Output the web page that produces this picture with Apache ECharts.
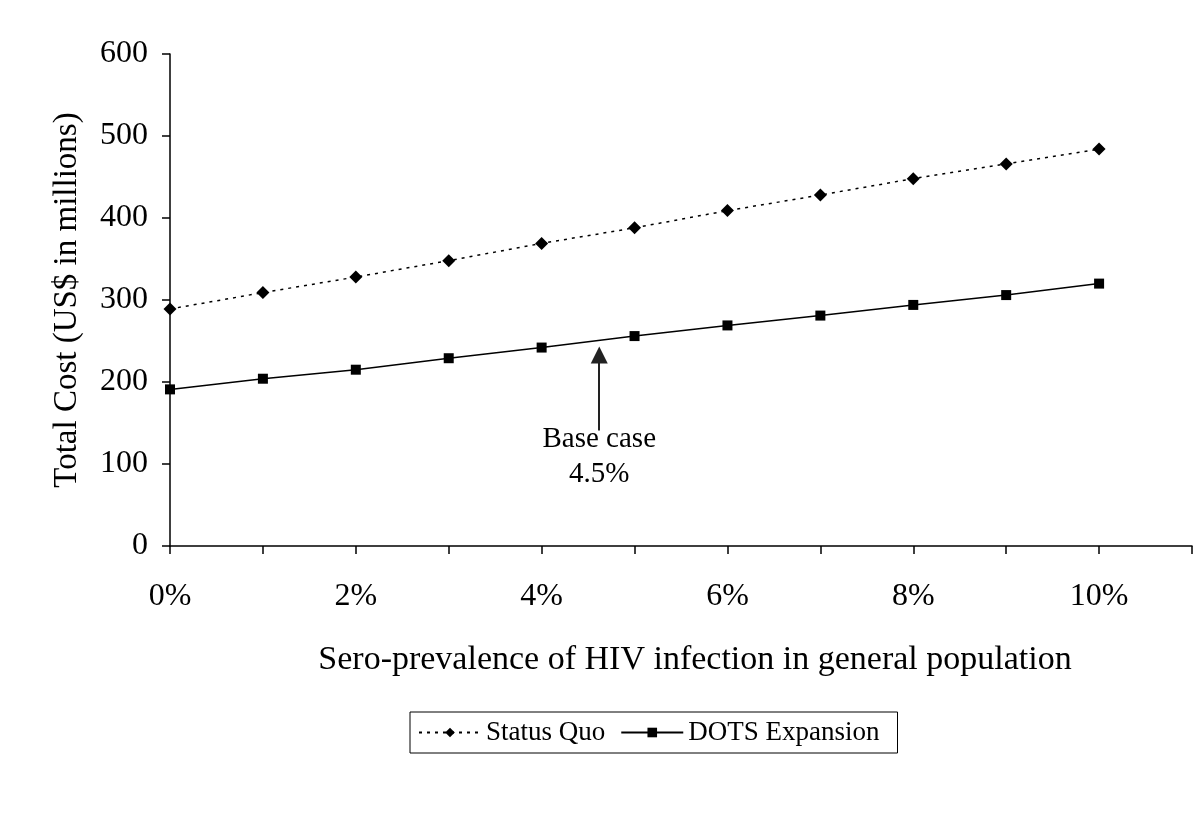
<!DOCTYPE html>
<html>
<head>
<meta charset="utf-8">
<script src="https://cdn.jsdelivr.net/npm/echarts@6/dist/echarts.min.js"></script>
<style>
  html, body { margin: 0; padding: 0; background: #fff; }
  #chart_cost { width: 1200px; height: 815px; }
</style>
</head>
<body>
<div id="chart_cost"></div>
<script>
// sero-prevalence (%) at each point
var prevalence = [0, 1, 2, 3, 4, 5, 6, 7, 8, 9, 10];
// total cost, US$ millions
var statusQuo = [289, 309, 328, 348, 369, 388, 409, 428, 448, 466, 484];
var dotsExpansion = [191, 204, 215, 229, 242, 256, 269, 281, 294, 306, 320];
var tickLabels = ['0%', '', '2%', '', '4%', '', '6%', '', '8%', '', '10%', ''];
// base case arrow: x, y start, y end
var baseCaseX = 4.62;
var baseCaseY = [141, 233];

var font = '"Liberation Serif", "Times New Roman", serif';

function pairs(vals) {
  return prevalence.map(function (x, i) { return [x, vals[i]]; });
}

var chart = echarts.init(document.getElementById('chart_cost'));
var option = {
  animation: false,
  textStyle: { fontFamily: font, color: '#000' },
  grid: { left: 170, right: 8, top: 54, bottom: 269, containLabel: false },
  legend: {
    left: 410,
    top: 712,
    data: ['Status Quo', 'DOTS Expansion'],
    borderColor: '#000',
    borderWidth: 1,
    padding: [7, 18, 7, 8],
    itemWidth: 62,
    itemHeight: 12,
    itemGap: 15,
    textStyle: { fontFamily: font, fontSize: 27, color: '#000' }
  },
  xAxis: {
    type: 'value',
    min: 0,
    max: 11,
    interval: 1,
    name: 'Sero-prevalence of HIV infection in general population',
    nameLocation: 'middle',
    nameGap: 97,
    nameTextStyle: { fontFamily: font, fontSize: 34, color: '#000', padding: [0, 0, 0, 28] },
    splitLine: { show: false },
    axisLine: { lineStyle: { color: '#000', width: 1.5 } },
    axisTick: { show: true, length: 8, lineStyle: { color: '#000', width: 1.5 } },
    axisLabel: {
      margin: 35,
      fontFamily: font,
      fontSize: 32,
      color: '#000',
      formatter: function (v) { return tickLabels[v] || ''; }
    }
  },
  yAxis: {
    type: 'value',
    min: 0,
    max: 600,
    interval: 100,
    name: 'Total Cost (US$ in millions)',
    nameLocation: 'middle',
    nameGap: 86,
    nameTextStyle: { fontFamily: font, fontSize: 33, color: '#000' },
    splitLine: { show: false },
    axisLine: { show: true, lineStyle: { color: '#000', width: 1.5 } },
    axisTick: { show: true, length: 8, lineStyle: { color: '#000', width: 1.5 } },
    axisLabel: { margin: 22, fontFamily: font, fontSize: 32, color: '#000' }
  },
  series: [
    {
      name: 'Status Quo',
      type: 'line',
      data: pairs(statusQuo),
      symbol: 'diamond',
      symbolSize: 13,
      itemStyle: { color: '#000' },
      lineStyle: { color: '#000', width: 1.5, type: [3, 5] }
    },
    {
      name: 'DOTS Expansion',
      type: 'line',
      data: pairs(dotsExpansion),
      symbol: 'rect',
      symbolSize: 10,
      itemStyle: { color: '#000' },
      lineStyle: { color: '#000', width: 1.5, type: 'solid' },
      markLine: {
        silent: true,
        symbol: ['none', 'triangle'],
        symbolSize: 17,
        lineStyle: { color: '#222', width: 2, type: 'solid' },
        label: {
          show: true,
          position: 'start',
          distance: -8,
          formatter: 'Base case\n4.5%',
          fontFamily: font,
          fontSize: 29,
          lineHeight: 35,
          color: '#000'
        },
        data: [[
          { coord: [baseCaseX, baseCaseY[0]] },
          { coord: [baseCaseX, baseCaseY[1]] }
        ]]
      }
    }
  ]
};
chart.setOption(option);
</script>
</body>
</html>
